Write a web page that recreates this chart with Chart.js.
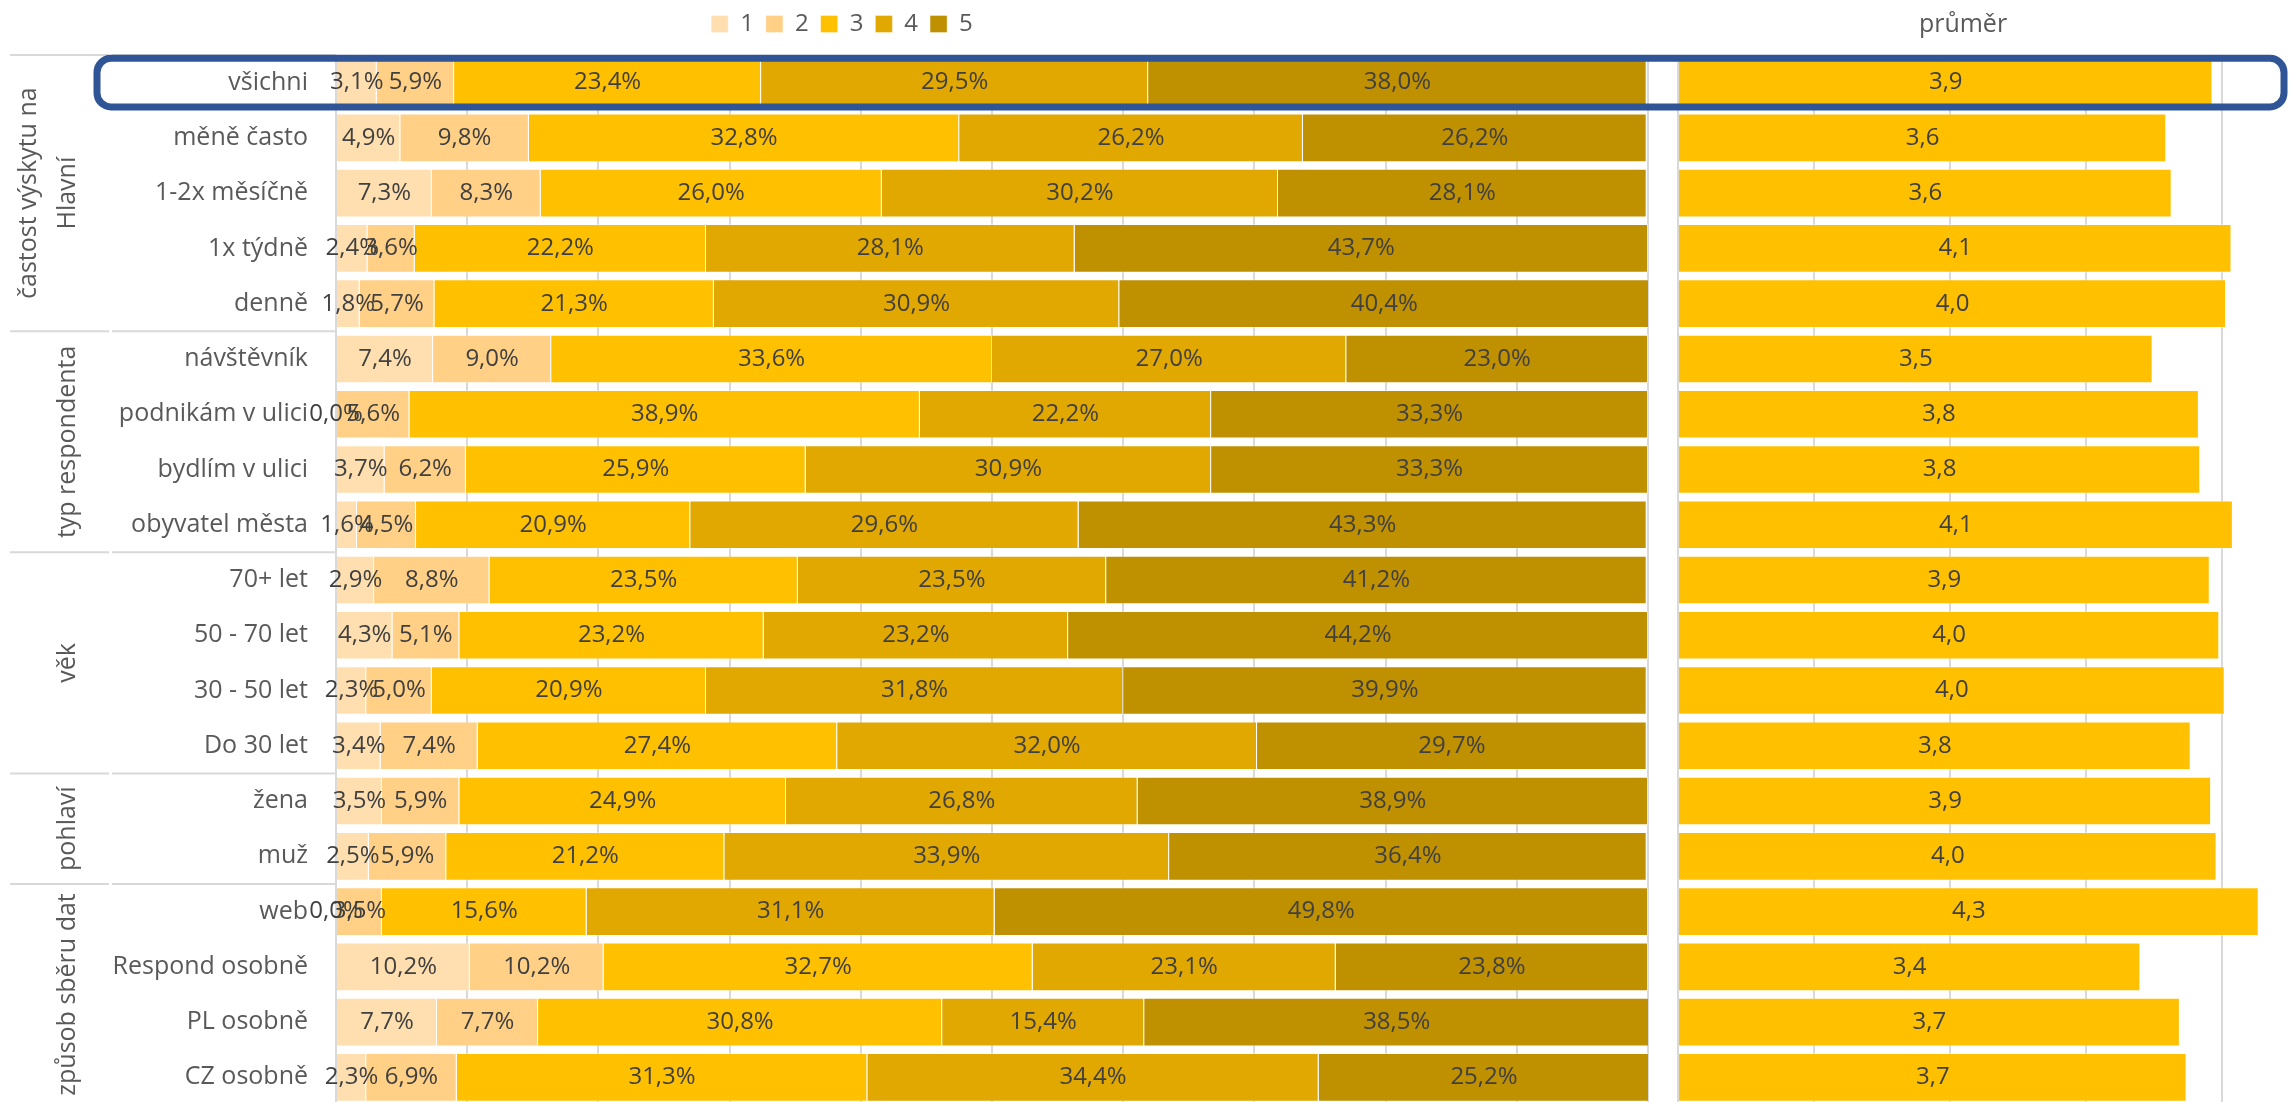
<!DOCTYPE html>
<html lang="cs">
<head>
<meta charset="utf-8">
<title>průměr</title>
<script src="https://cdn.jsdelivr.net/npm/chart.js@4.4.1/dist/chart.umd.min.js"></script>
<style>
  html, body { margin: 0; padding: 0; background: #fff; overflow: hidden; width: 2290px; height: 1102px; }
  #wrap { position: relative; width: 2290px; height: 1102px; overflow: hidden; }
  #avgChart { position: absolute; left: 1600px; top: 0; }
  #distChart { position: absolute; left: 0; top: 0; z-index: 2; }
</style>
</head>
<body>
<div id="wrap">
  <canvas id="avgChart" width="690" height="1105"></canvas>
  <canvas id="distChart" width="2290" height="1105"></canvas>
</div>
<script>
const categories = ['všichni', 'měně často', '1-2x měsíčně', '1x týdně', 'denně',
  'návštěvník', 'podnikám v ulici', 'bydlím v ulici', 'obyvatel města',
  '70+ let', '50 - 70 let', '30 - 50 let', 'Do 30 let',
  'žena', 'muž',
  'web', 'Respond osobně', 'PL osobně', 'CZ osobně'];

const groupNames = [['častost výskytu na', 'Hlavní'], ['typ respondenta'], ['věk'], ['pohlaví'], ['způsob sběru dat']];
const groupSizes = [5, 4, 4, 2, 4];

const levels = ['1', '2', '3', '4', '5'];
const share1 = [3.1, 4.9, 7.3, 2.4, 1.8, 7.4, 0.0, 3.7, 1.6, 2.9, 4.3, 2.3, 3.4, 3.5, 2.5, 0.0, 10.2, 7.7, 2.3];
const share2 = [5.9, 9.8, 8.3, 3.6, 5.7, 9.0, 5.6, 6.2, 4.5, 8.8, 5.1, 5.0, 7.4, 5.9, 5.9, 3.5, 10.2, 7.7, 6.9];
const share3 = [23.4, 32.8, 26.0, 22.2, 21.3, 33.6, 38.9, 25.9, 20.9, 23.5, 23.2, 20.9, 27.4, 24.9, 21.2, 15.6, 32.7, 30.8, 31.3];
const share4 = [29.5, 26.2, 30.2, 28.1, 30.9, 27.0, 22.2, 30.9, 29.6, 23.5, 23.2, 31.8, 32.0, 26.8, 33.9, 31.1, 23.1, 15.4, 34.4];
const share5 = [38.0, 26.2, 28.1, 43.7, 40.4, 23.0, 33.3, 33.3, 43.3, 41.2, 44.2, 39.9, 29.7, 38.9, 36.4, 49.8, 23.8, 38.5, 25.2];
const means = [3.93, 3.59, 3.63, 4.07, 4.03, 3.49, 3.83, 3.84, 4.08, 3.91, 3.98, 4.02, 3.77, 3.92, 3.96, 4.27, 3.40, 3.69, 3.74];

const levelColors = ['#FFDFAF', '#FFD086', '#FFC000', '#E0A800', '#BF9000'];

Chart.defaults.font.family = "'Open Sans', sans-serif";
Chart.defaults.font.size = 24;
Chart.defaults.color = '#595959';

const fmt = (v, d) => v.toFixed(d).replace('.', ',');

// value labels in the middle of each bar segment
function makeBarLabels(format) {
  return {
    id: 'barLabels',
    afterDatasetsDraw(chart) {
      const ctx = chart.ctx;
      ctx.save();
      ctx.font = '24px "Open Sans"';
      ctx.fillStyle = '#404040';
      ctx.textAlign = 'center';
      ctx.textBaseline = 'middle';
      chart.data.datasets.forEach((ds, i) => {
        chart.getDatasetMeta(i).data.forEach((bar, j) => {
          ctx.fillText(format(ds.data[j]), (bar.x + bar.base) / 2, bar.y);
        });
      });
      ctx.restore();
    }
  };
}

// second level of the category axis + the frame round "všichni"
const groupAxis = {
  id: 'groupAxis',
  afterDraw(chart) {
    const { ctx, chartArea, scales: { y } } = chart;
    const step = y.getPixelForValue(1) - y.getPixelForValue(0);
    const edge = i => y.getPixelForValue(i) - step / 2;
    ctx.save();
    ctx.strokeStyle = '#D9D9D9';
    ctx.lineWidth = 2;
    ctx.fillStyle = '#595959';
    ctx.font = '25px "Open Sans"';
    ctx.textAlign = 'center';
    ctx.textBaseline = 'middle';
    let start = 0;
    groupNames.forEach((lines, g) => {
      const end = start + groupSizes[g];
      const yTop = edge(start);
      ctx.beginPath();
      ctx.moveTo(10, yTop); ctx.lineTo(109, yTop);
      ctx.moveTo(112, yTop); ctx.lineTo(chartArea.left, yTop);
      ctx.stroke();
      const yMid = (edge(start) + edge(end)) / 2;
      lines.forEach((txt, k) => {
        ctx.save();
        ctx.translate(68 - (lines.length - 1 - k) * 39, yMid);
        ctx.rotate(-Math.PI / 2);
        ctx.fillText(txt, 0, 0);
        ctx.restore();
      });
      start = end;
    });

    const first = chart.getDatasetMeta(0).data[0];
    ctx.strokeStyle = '#2F5597';
    ctx.lineWidth = 7;
    ctx.beginPath();
    ctx.roundRect(97, first.y - first.height / 2, chart.width - 6 - 97, first.height, 14);
    ctx.stroke();
    ctx.restore();
  }
};

// Stacked bars - distribution of answers
const shares = [share1, share2, share3, share4, share5];
new Chart(document.getElementById('distChart'), {
  type: 'bar',
  data: {
    labels: categories,
    datasets: levels.map((lv, i) => ({
      label: lv,
      data: shares[i],
      backgroundColor: levelColors[i],
      borderColor: 'rgba(255,255,255,0.35)',
      borderWidth: 1,
      barPercentage: 0.88,
      categoryPercentage: 1
    }))
  },
  options: {
    indexAxis: 'y',
    responsive: false,
    animation: false,
    devicePixelRatio: 1,
    layout: { padding: { left: 36, right: 642, top: 0, bottom: 0 } },
    plugins: {
      legend: {
        position: 'top',
        labels: { boxWidth: 17, boxHeight: 17, padding: 12, color: '#595959', font: { size: 24 } }
      },
      tooltip: { enabled: false }
    },
    scales: {
      x: {
        position: 'top',
        stacked: true,
        min: 0,
        max: 100,
        ticks: { display: false, stepSize: 10 },
        grid: { color: '#D9D9D9', lineWidth: 2, drawTicks: true, tickLength: 9, tickColor: 'transparent' },
        border: { display: false }
      },
      y: {
        stacked: true,
        grid: { display: false, drawTicks: false },
        border: { display: false },
        ticks: { padding: 28, color: '#595959', font: { size: 25 } },
        afterFit: s => { s.width = 300; s.paddingTop = 0; s.paddingBottom = 0; }
      }
    }
  },
  plugins: [makeBarLabels(v => fmt(v, 1) + '%'), groupAxis]
});

// Bars - mean score
new Chart(document.getElementById('avgChart'), {
  type: 'bar',
  data: {
    labels: categories,
    datasets: [{
      label: 'průměr',
      data: means,
      backgroundColor: '#FFC000',
      borderColor: 'rgba(255,255,255,0.35)',
      borderWidth: 1,
      barPercentage: 0.88,
      categoryPercentage: 1
    }]
  },
  options: {
    indexAxis: 'y',
    responsive: false,
    animation: false,
    devicePixelRatio: 1,
    layout: { padding: { left: 36, right: 0, top: 0, bottom: 0 } },
    plugins: {
      legend: { display: false },
      title: {
        display: true,
        text: 'průměr',
        color: '#595959',
        font: { size: 25, weight: 'normal' },
        padding: { top: 10, bottom: 15 }
      },
      tooltip: { enabled: false }
    },
    scales: {
      x: {
        position: 'top',
        min: 0,
        max: 4.5,
        ticks: { display: false, stepSize: 1 },
        grid: {
          color: c => Number.isInteger(c.tick.value) ? '#D9D9D9' : 'transparent',
          lineWidth: 2,
          drawTicks: false
        },
        border: { display: false }
      },
      y: {
        grid: { display: false, drawTicks: false },
        border: { display: false },
        ticks: { display: false },
        afterFit: s => { s.width = 42; }
      }
    }
  },
  plugins: [makeBarLabels(v => fmt(v, 1))]
});
</script>
</body>
</html>
